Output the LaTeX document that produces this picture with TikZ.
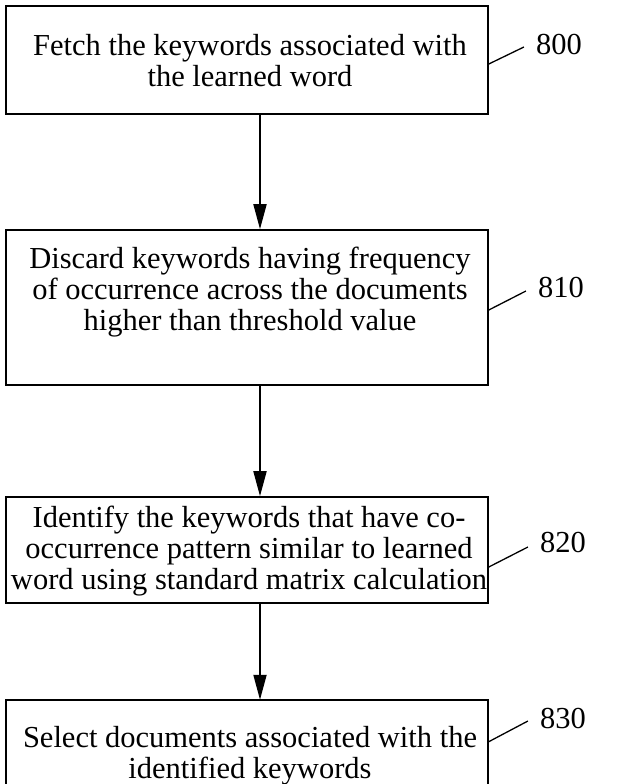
\documentclass[tikz,border=0pt]{standalone}
\usepackage{fontspec}
\setmainfont{Liberation Serif}
\usetikzlibrary{arrows.meta,calc}
\begin{document}
\begin{tikzpicture}[x=1pt,y=-1pt,
  stepframe/.style={draw, line width=1.6pt, minimum width=482pt, inner sep=0pt},
  steptext/.style={anchor=north, align=center, inner sep=0pt, font=\fontsize{30.5}{31}\selectfont},
  reflabel/.style={inner sep=0pt, font=\fontsize{30.5}{31}\selectfont},
  leader/.style={line width=1.3pt},
  flow/.style={line width=1.8pt, -{Triangle[length=25pt,width=13pt]}}]
\useasboundingbox (0,0) rectangle (618,784);

% step frames
\node[stepframe, minimum height=108pt] (b1) at (247,60) {};
\node[stepframe, minimum height=155pt] (b2) at (247,307.5) {};
\node[stepframe, minimum height=106pt] (b3) at (247,550) {};
% last frame runs off the bottom edge: no bottom line
\node[minimum width=482pt, minimum height=84pt, inner sep=0pt] (b4) at (247,742) {};
\draw[line width=1.6pt] (b4.south west) |- (b4.north east) -- (b4.south east);

% step texts
\node[steptext] (t1) at (250,34) {Fetch the keywords associated with\\the learned word};
\node[steptext] (t2) at (250,247) {Discard keywords having frequency\\of occurrence across the documents\\higher than threshold value};
\node[steptext] (t3) at (249,506) {Identify the keywords that have co-\\occurrence pattern similar to learned\\word using standard matrix calculation};
\node[steptext] (t4) at (250,726.5) {Select documents associated with the\\identified keywords};

% reference numerals
\node[reflabel] (l1) at (559,45) {800};
\node[reflabel] (l2) at (561,288) {810};
\node[reflabel] (l3) at (563,543) {820};
\node[reflabel] (l4) at (563,718) {830};

\draw[leader] ($(b1.east |- l1.west)+(0,19)$) -- ($(l1.west)+(-12,2)$);
\draw[leader] ($(b2.east |- l2.west)+(0,22)$) -- ($(l2.west)+(-12,3)$);
\draw[leader] ($(b3.east |- l3.west)+(0,24)$) -- ($(l3.west)+(-12,4)$);
\draw[leader] ($(b4.east |- l4.west)+(0,24)$) -- ($(l4.west)+(-12,3)$);

% flow arrows
\draw[flow] ([xshift=13pt]b1.south) -- ([xshift=13pt]b2.north);
\draw[flow] ([xshift=13pt]b2.south) -- ([xshift=13pt]b3.north);
\draw[flow] ([xshift=13pt]b3.south) -- ([xshift=13pt]b4.north);
\end{tikzpicture}
\end{document}
